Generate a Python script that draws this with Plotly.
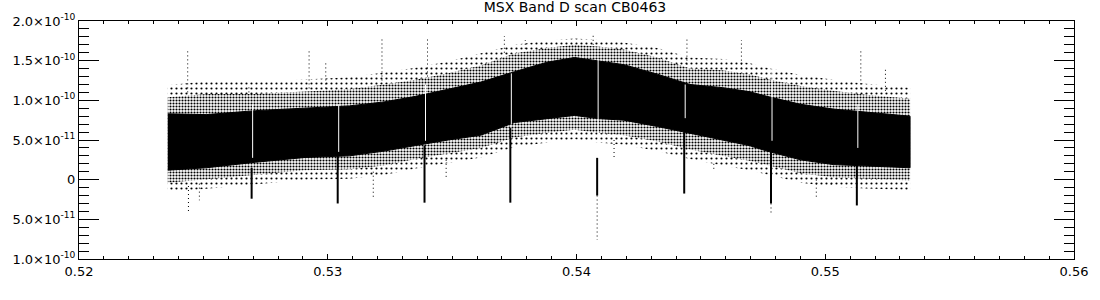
import plotly.graph_objects as go

# ---- data (y in units of 1e-11) ----
band_x = [0.52357, 0.52512, 0.52710, 0.52909, 0.53087, 0.53226, 0.53353, 0.53484,
          0.53615, 0.53750, 0.53881, 0.53992, 0.54087, 0.54190, 0.54325, 0.54456,
          0.54587, 0.54694, 0.54766, 0.54901, 0.55032, 0.55163, 0.55341]
core_top = [8.3, 8.2, 8.7, 9.0, 9.3, 9.8, 10.5, 11.4, 12.3, 13.6, 14.8, 15.4,
            15.0, 14.5, 13.3, 12.0, 11.6, 11.1, 10.5, 9.5, 8.9, 8.5, 8.0]
core_bot = [1.2, 1.5, 2.2, 2.8, 3.0, 3.6, 4.3, 5.0, 5.6, 7.2, 7.7, 8.1,
            7.7, 7.5, 6.7, 5.8, 5.0, 4.3, 3.6, 2.5, 1.9, 1.7, 1.5]
fringe_top = [10.4, 10.8, 10.8, 11.1, 11.4, 12.0, 12.6, 13.4, 14.4, 15.9, 16.6, 17.0,
              16.8, 16.4, 15.4, 14.0, 13.8, 13.3, 12.7, 11.8, 11.2, 10.7, 10.2]
fringe_bot = [-0.4, 0.0, 0.6, 1.2, 1.3, 1.8, 2.6, 3.3, 4.0, 5.3, 5.9, 6.3,
              5.9, 5.6, 4.8, 3.8, 3.0, 2.4, 1.8, 0.8, 0.3, 0.1, -0.1]
halo_top = [11.9, 12.4, 12.3, 12.6, 12.9, 13.5, 14.1, 14.9, 15.9, 17.0, 17.5, 17.8,
            17.6, 17.3, 16.6, 15.4, 15.2, 14.7, 14.1, 13.2, 12.6, 12.1, 11.6]
halo_bot = [-1.6, -1.2, -0.6, 0.0, 0.1, 0.6, 1.4, 2.1, 2.8, 4.1, 4.7, 5.1,
            4.7, 4.4, 3.6, 2.6, 1.8, 1.2, 0.6, -0.4, -0.9, -1.1, -1.3]

dip_x = [0.52694, 0.53040, 0.53389, 0.53734, 0.54083, 0.54433, 0.54782, 0.55127]
dip_top = [1.5, 3.0, 4.3, 6.5, 2.75, 6.0, 3.6, 2.0]
dip_bot = [-2.4, -3.0, -2.9, -2.9, -2.0, -1.75, -3.0, -3.25]
dip_tail = [-2.4, -3.0, -2.9, -2.9, -7.6, -1.75, -4.25, -3.25]
gap_top = [9.5, 9.5, 12.0, 13.4, 15.2, 12.0, 14.9, 9.5]
gap_bot = [2.75, 3.5, 4.9, 7.0, 2.75, 7.75, 4.9, 4.0]

up_x = [0.52437, 0.52683, 0.52925, 0.52992, 0.53218, 0.53401, 0.53710, 0.53794,
        0.54067, 0.54444, 0.54663, 0.55143, 0.55242]
up_top = [16.5, 11.75, 16.5, 15.0, 18.0, 17.9, 18.1, 17.6, 18.25, 17.75, 17.6, 16.4, 13.9]
up_base = [11.0, 11.0, 11.5, 11.5, 12.5, 13.0, 16.0, 16.5, 17.0, 14.5, 14.0, 11.5, 11.2]

down_x = [0.52440, 0.52484, 0.53183, 0.53476, 0.54151, 0.54552, 0.54964, 0.55024]
down_bot = [-4.1, -2.6, -2.4, 0.1, 2.6, 1.1, -2.4, -1.0]
down_base = [-0.8, -0.5, 1.0, 2.5, 5.0, 2.0, 0.0, -0.5]

y_tickvals = [-10, -5, 0, 5, 10, 15, 20]
y_ticktext = ["1.0×10<sup>-10</sup>", "5.0×10<sup>-11</sup>", "0",
              "5.0×10<sup>-11</sup>", "1.0×10<sup>-10</sup>",
              "1.5×10<sup>-10</sup>", "2.0×10<sup>-10</sup>"]
x_tickvals = [0.52, 0.53, 0.54, 0.55, 0.56]
x_ticktext = ["0.52", "0.53", "0.54", "0.55", "0.56"]

S = 1e-11


def scale(v):
    return [a * S for a in v]


def segs(xs, y0, y1):
    X, Y = [], []
    for x, a, b in zip(xs, y0, y1):
        X += [x, x, None]
        Y += [a * S, b * S, None]
    return X, Y


def band(top, bot, **kw):
    return go.Scatter(x=band_x + band_x[::-1], y=scale(top) + scale(bot)[::-1],
                      mode="lines", line=dict(width=0, color="black"),
                      fill="toself", hoverinfo="skip", showlegend=False, **kw)


fig = go.Figure()

# sparse halo
fig.add_trace(band(halo_top, halo_bot, fillcolor="black",
                   fillpattern=dict(shape=".", fgcolor="black", bgcolor="white",
                                    size=5, solidity=0.15, fillmode="replace")))
# outlier spikes (dotted)
ux, uy = segs(up_x, up_base, up_top)
fig.add_trace(go.Scatter(x=ux, y=uy, mode="lines",
                         line=dict(color="black", width=1, dash="1px,3px"),
                         hoverinfo="skip", showlegend=False))
dx_, dy_ = segs(down_x, down_base, down_bot)
fig.add_trace(go.Scatter(x=dx_, y=dy_, mode="lines",
                         line=dict(color="black", width=1, dash="1px,3px"),
                         hoverinfo="skip", showlegend=False))
# stippled fringe
fig.add_trace(band(fringe_top, fringe_bot, fillcolor="black",
                   fillpattern=dict(shape=".", fgcolor="black", bgcolor="white",
                                    size=3, solidity=0.4, fillmode="replace")))
# solid core
fig.add_trace(go.Scatter(
    x=band_x + band_x[::-1], y=scale(core_top) + scale(core_bot)[::-1],
    mode="lines", line=dict(width=1, color="black"), fill="toself",
    fillcolor="black", hoverinfo="skip", showlegend=False))

# white gaps next to dips
gx, gy = segs([x + 0.00004 for x in dip_x], gap_top, gap_bot)
fig.add_trace(go.Scatter(x=gx, y=gy, mode="lines",
                         line=dict(color="white", width=1),
                         hoverinfo="skip", showlegend=False))
# dip tails (dotted) and solid dips
tx, ty = segs(dip_x, dip_bot, dip_tail)
fig.add_trace(go.Scatter(x=tx, y=ty, mode="lines",
                         line=dict(color="black", width=1, dash="1px,3px"),
                         hoverinfo="skip", showlegend=False))
sx, sy = segs(dip_x, dip_top, dip_bot)
fig.add_trace(go.Scatter(x=sx, y=sy, mode="lines",
                         line=dict(color="black", width=2),
                         hoverinfo="skip", showlegend=False))

font = dict(family="DejaVu Sans", size=13, color="black")

fig.update_layout(
    width=1100, height=300,
    margin=dict(l=71, r=21, t=19, b=41),
    paper_bgcolor="white", plot_bgcolor="white",
    font=font,
    title=dict(text="MSX Band D scan CB0463", x=0.5227, xanchor="center",
               y=0.975, yanchor="middle", font=dict(family="DejaVu Sans", size=14)),
    xaxis=dict(range=[0.52, 0.56], tickvals=x_tickvals, ticktext=x_ticktext,
               ticks="inside", ticklen=5, tickwidth=1, tickcolor="black",
               showline=True, linecolor="black", linewidth=1, mirror="allticks",
               showgrid=False, zeroline=False,
               minor=dict(dtick=0.001, tick0=0.52, ticks="inside", ticklen=3,
                          tickcolor="black", tickwidth=1, showgrid=False)),
    yaxis=dict(range=[-10e-11, 20e-11], tickvals=scale(y_tickvals), ticktext=y_ticktext,
               ticks="inside", ticklen=20, tickwidth=1, tickcolor="black",
               showline=True, linecolor="black", linewidth=1, mirror="allticks",
               showgrid=False, zeroline=False,
               minor=dict(dtick=1e-11, tick0=0, ticks="inside", ticklen=10,
                          tickcolor="black", tickwidth=1, showgrid=False)),
)

fig.write_html("out.html")
